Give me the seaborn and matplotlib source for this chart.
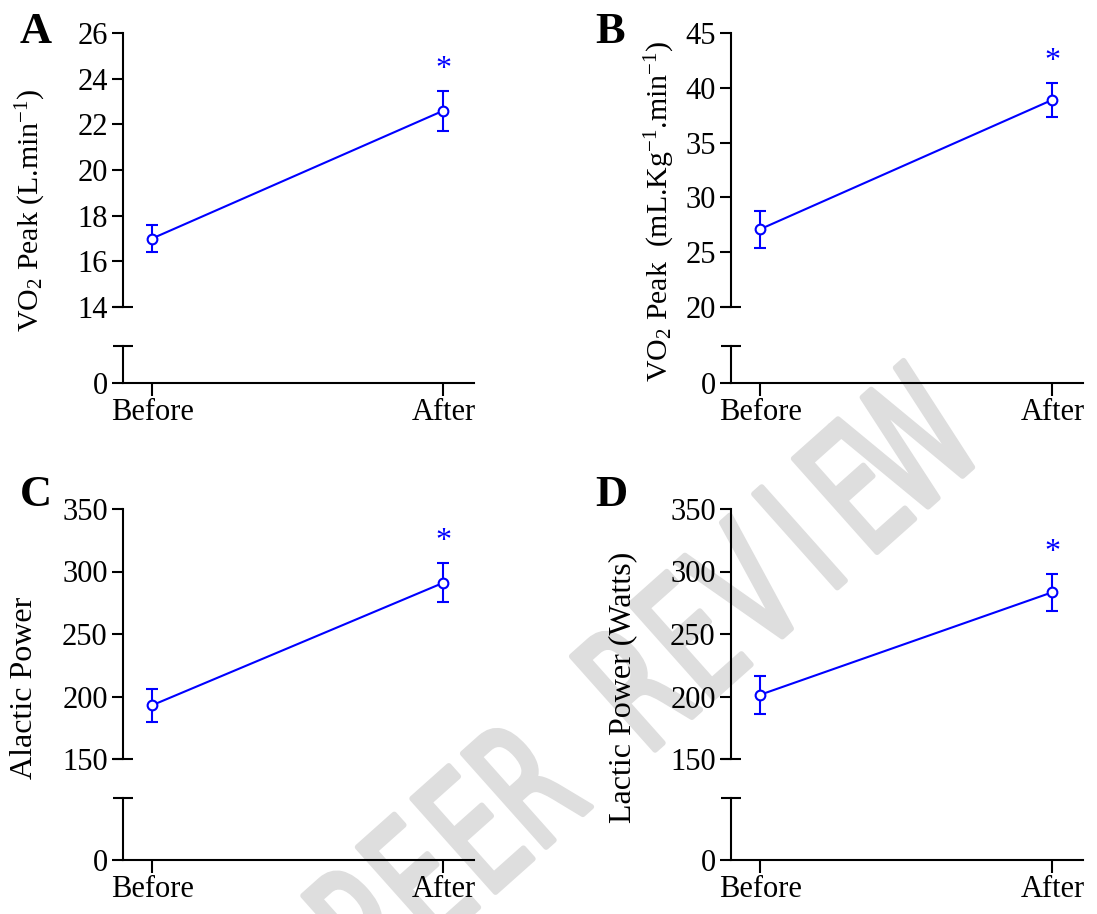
import matplotlib
matplotlib.use("Agg")
import numpy as np
import matplotlib.pyplot as plt
import seaborn as sns
import pandas as pd
from matplotlib.textpath import TextPath
from matplotlib.patches import PathPatch
from matplotlib.font_manager import FontProperties
from matplotlib.transforms import Affine2D

# data (mean +/- SEM)
categories = ["Before", "After"]
vo2_abs_mean = [17.0, 22.6]
vo2_abs_sem = [0.6, 0.88]
vo2_rel_mean = [27.1, 38.9]
vo2_rel_sem = [1.7, 1.55]
alactic_mean = [193, 291]
alactic_sem = [13.3, 15.6]
lactic_mean = [201.4, 283.4]
lactic_sem = [15.3, 14.6]

vo2_abs_ticks = [14, 16, 18, 20, 22, 24, 26]
vo2_rel_ticks = [20, 25, 30, 35, 40, 45]
power_ticks = [150, 200, 250, 300, 350]

sns.set_theme(style="ticks")
plt.rcParams["font.family"] = ["Liberation Serif", "DejaVu Serif"]
plt.rcParams["mathtext.fontset"] = "custom"
plt.rcParams["mathtext.rm"] = "Liberation Serif"
plt.rcParams["mathtext.it"] = "Liberation Serif:italic"
plt.rcParams["mathtext.bf"] = "Liberation Serif:bold"
plt.rcParams.update({"text.color": "black", "axes.labelcolor": "black",
                     "xtick.color": "black", "ytick.color": "black"})

W, H = 1097, 914
fig = plt.figure(figsize=(W / 100, H / 100), dpi=100)
fig.patch.set_facecolor("white")

BLUE = "#0000FF"
FS = 22

# "PEER REVIEW" watermark behind the panels (monospaced, condensed letters)
wm_text = "PEER REVIEW"
wm_prop = FontProperties(family="DejaVu Sans")
wm_angle = 41.7
wm_step = 73
wm_cx, wm_cy = 636, H - 683
cap = TextPath((0, 0), "E", size=172, prop=wm_prop).get_extents()
for i, ch in enumerate(wm_text):
    if ch == " ":
        continue
    tp = TextPath((0, 0), ch, size=172, prop=wm_prop)
    ext = tp.get_extents()
    tr = (Affine2D().translate(-(ext.x0 + ext.x1) / 2, -(cap.y0 + cap.y1) / 2)
          .scale(0.62, 1.0).translate((i - 5) * wm_step, 0)
          .rotate_deg(wm_angle).translate(wm_cx, wm_cy))
    fig.add_artist(PathPatch(tp, transform=tr, fc="#dedede", ec="#dedede", lw=4,
                             joinstyle="round", capstyle="round", zorder=-1))

# panel layout in pixels
cols = [(123, 474), (731, 1083)]
rows = [(33, 307, 346, 383), (509, 759, 798, 860)]

panels = [
    dict(letter="A", col=0, row=0, mean=vo2_abs_mean, sem=vo2_abs_sem, ticks=vo2_abs_ticks,
         label=r"VO$_2$ Peak (L.min$^{-1}$)", lab_fs=21.5, lab_xy=(31, 210), let_xy=(20, 43)),
    dict(letter="B", col=1, row=0, mean=vo2_rel_mean, sem=vo2_rel_sem, ticks=vo2_rel_ticks,
         label=r"VO$_2$ Peak  (mL.Kg$^{-1}$.min$^{-1}$)", lab_fs=21.5, lab_xy=(660, 211),
         let_xy=(595, 43)),
    dict(letter="C", col=0, row=1, mean=alactic_mean, sem=alactic_sem, ticks=power_ticks,
         label="Alactic Power", lab_fs=23, lab_xy=(25, 688), let_xy=(20, 506)),
    dict(letter="D", col=1, row=1, mean=lactic_mean, sem=lactic_sem, ticks=power_ticks,
         label="Lactic Power (Watts)", lab_fs=23, lab_xy=(623, 687), let_xy=(595, 506)),
]

for p in panels:
    x0, x1 = cols[p["col"]]
    top, brk, low_top, zero = rows[p["row"]]
    ax = fig.add_axes([x0 / W, 1 - brk / H, (x1 - x0) / W, (brk - top) / H])
    axb = fig.add_axes([x0 / W, 1 - zero / H, (x1 - x0) / W, (zero - low_top) / H])
    for a in (ax, axb):
        a.set_facecolor("none")
        a.set_xlim(-0.1, 1.105)
        for s in ["top", "right"]:
            a.spines[s].set_visible(False)
        for s in ["left", "bottom"]:
            a.spines[s].set_linewidth(1.5)
            a.spines[s].set_color("black")
        a.tick_params(axis="both", which="major", direction="out", length=8, width=1.5,
                      labelsize=FS, color="black", labelcolor="black", pad=3)

    df = pd.DataFrame({"x": [0, 1], "y": p["mean"]})
    sns.lineplot(data=df, x="x", y="y", ax=ax, color=BLUE, lw=1.5, zorder=3)
    ax.errorbar([0, 1], p["mean"], yerr=p["sem"], fmt="o", color=BLUE, ms=7, mfc="white",
                mec=BLUE, mew=1.5, elinewidth=1.5, capsize=4.5, capthick=1.5, zorder=4)
    ax.annotate("*", xy=(1, p["mean"][1] + p["sem"][1]), xytext=(0, 15.5),
                textcoords="offset points", ha="center", va="center", color=BLUE, fontsize=23)

    ax.set_ylim(p["ticks"][0], p["ticks"][-1])
    ax.set_yticks(p["ticks"])
    ax.set_yticklabels([str(t) for t in p["ticks"]])
    ax.yaxis.remove_overlapping_locs = False
    ax.set_yticks([p["ticks"][0]], minor=True)
    ax.tick_params(axis="y", which="minor", direction="inout", length=15, width=1.5)
    ax.spines["bottom"].set_visible(False)
    ax.set_xticks([])
    ax.set_xlabel("")
    ax.set_ylabel("")

    axb.set_ylim(0, 1)
    axb.set_yticks([0])
    axb.set_yticklabels(["0"])
    axb.yaxis.remove_overlapping_locs = False
    axb.set_yticks([1], minor=True)
    axb.tick_params(axis="y", which="minor", direction="inout", length=15, width=1.5)
    axb.set_xticks([0, 1])
    axb.set_xticklabels(categories)
    axb.tick_params(axis="x", length=9, pad=2)

    fig.text(p["lab_xy"][0] / W, 1 - p["lab_xy"][1] / H, p["label"], rotation=90,
             ha="center", va="center", fontsize=p["lab_fs"])
    fig.text(p["let_xy"][0] / W, 1 - p["let_xy"][1] / H, p["letter"], ha="left",
             va="baseline", fontsize=32, fontweight="bold")

fig.savefig("out.png", dpi=100, facecolor="white")
